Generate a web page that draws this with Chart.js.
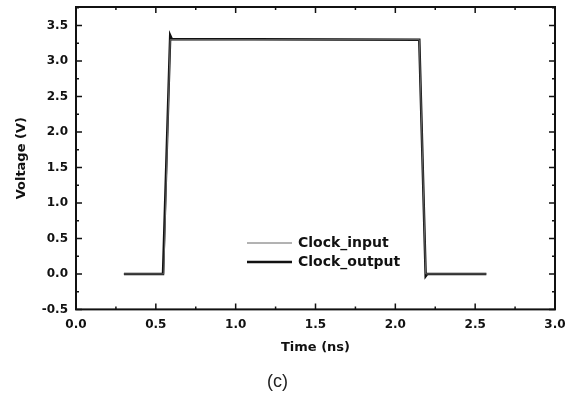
<!DOCTYPE html>
<html lang="en">
<head>
<meta charset="UTF-8">
<title>Clock waveform</title>
<script src="https://cdn.jsdelivr.net/npm/chart.js"></script>
<style>
  body { margin: 0; background: #fff; }
</style>
</head>
<body>
<canvas id="myChart" width="574" height="399"></canvas>
<script>
// waveform (time in ns, voltage in V)
const inputTime  = [0.30, 0.55, 0.59, 2.15, 2.19, 2.57];
const inputVolt  = [0, 0, 3.30, 3.30, 0, 0];
const outputTime = [0.30, 0.545, 0.59, 0.60, 2.15, 2.19, 2.20, 2.57];
const outputVolt = [0, 0, 3.36, 3.31, 3.30, -0.03, 0, 0];
const seriesNames = ['Clock_input', 'Clock_output'];

const toPoints = (xs, ys) => xs.map((x, i) => ({ x: x, y: ys[i] }));

// frame with inward major/minor ticks on all four sides, plus the legend
const framePlugin = {
    id: 'frame',
    afterDatasetsDraw(chart) {
        const ctx = chart.ctx;
        const a = chart.chartArea;
        const xs = chart.scales.x, ys = chart.scales.y;
        ctx.save();
        ctx.strokeStyle = '#111';
        ctx.lineWidth = 2;
        ctx.strokeRect(a.left, a.top, a.right - a.left, a.bottom - a.top);
        ctx.lineWidth = 1.5;
        for (let v = 0; v <= 3.001; v += 0.25) {
            const p = xs.getPixelForValue(v);
            const len = Math.abs(v * 2 - Math.round(v * 2)) < 1e-6 ? 6 : 3;
            ctx.beginPath();
            ctx.moveTo(p, a.bottom); ctx.lineTo(p, a.bottom - len);
            ctx.moveTo(p, a.top); ctx.lineTo(p, a.top + len);
            ctx.stroke();
        }
        for (let v = -0.5; v <= 3.751; v += 0.25) {
            const p = ys.getPixelForValue(v);
            const len = Math.abs(v * 2 - Math.round(v * 2)) < 1e-6 ? 6 : 3;
            ctx.beginPath();
            ctx.moveTo(a.left, p); ctx.lineTo(a.left + len, p);
            ctx.moveTo(a.right, p); ctx.lineTo(a.right - len, p);
            ctx.stroke();
        }
        // legend inside the plot
        const lx = a.left + 171, ly = a.top + 236;
        ctx.font = 'bold 14px "DejaVu Sans"';
        ctx.textBaseline = 'middle';
        chart.data.datasets.forEach((ds, i) => {
            const y = ly + i * 19;
            ctx.strokeStyle = ds.borderColor;
            ctx.lineWidth = ds.borderWidth;
            ctx.beginPath();
            ctx.moveTo(lx, y); ctx.lineTo(lx + 45, y);
            ctx.stroke();
            ctx.fillStyle = '#111';
            ctx.fillText(ds.label, lx + 51, y);
        });
        ctx.restore();
    }
};

const ctx = document.getElementById('myChart').getContext('2d');
const myChart = new Chart(ctx, {
    type: 'line',
    data: {
        datasets: [{
            label: seriesNames[0],
            data: toPoints(inputTime, inputVolt),
            borderColor: '#666',
            borderWidth: 1,
            pointRadius: 0,
            tension: 0
        }, {
            label: seriesNames[1],
            data: toPoints(outputTime, outputVolt),
            borderColor: '#111',
            borderWidth: 2.5,
            pointRadius: 0,
            tension: 0
        }]
    },
    options: {
        responsive: false,
        animation: false,
        layout: { padding: { left: 0, right: 19, top: 7, bottom: 0 } },
        plugins: {
            legend: { display: false },
            tooltip: { enabled: false },
            title: {
                display: true,
                position: 'bottom',
                text: '(c)',
                color: '#222',
                font: { family: '"Liberation Sans"', size: 18, weight: 'normal' },
                padding: { top: 6, bottom: 6 }
            }
        },
        scales: {
            x: {
                type: 'linear',
                min: 0,
                max: 3,
                grid: { display: false, drawTicks: false },
                border: { display: false },
                ticks: {
                    stepSize: 0.5,
                    padding: 8,
                    color: '#111',
                    font: { family: '"DejaVu Sans"', size: 12, weight: 'bold' },
                    callback: v => v.toFixed(1)
                },
                title: {
                    display: true,
                    text: 'Time (ns)',
                    color: '#111',
                    font: { family: '"DejaVu Sans"', size: 13, weight: 'bold' },
                    padding: { top: 0, bottom: 10 }
                },
                afterFit: s => { s.height = 56; s.paddingLeft = 0; s.paddingRight = 0; }
            },
            y: {
                type: 'linear',
                min: -0.5,
                max: 3.76,
                grid: { display: false, drawTicks: false },
                border: { display: false },
                afterBuildTicks: s => {
                    s.ticks = s.ticks.filter(t => Math.abs(t.value * 2 - Math.round(t.value * 2)) < 1e-6);
                },
                ticks: {
                    stepSize: 0.5,
                    padding: 8,
                    color: '#111',
                    font: { family: '"DejaVu Sans"', size: 12, weight: 'bold' },
                    callback: v => v.toFixed(1)
                },
                title: {
                    display: true,
                    text: 'Voltage (V)',
                    color: '#111',
                    font: { family: '"DejaVu Sans"', size: 13, weight: 'bold' },
                    padding: { top: 14, bottom: 0 }
                },
                afterFit: s => { s.width = 76; s.paddingTop = 0; s.paddingBottom = 0; }
            }
        }
    },
    plugins: [framePlugin]
});
</script>
</body>
</html>
